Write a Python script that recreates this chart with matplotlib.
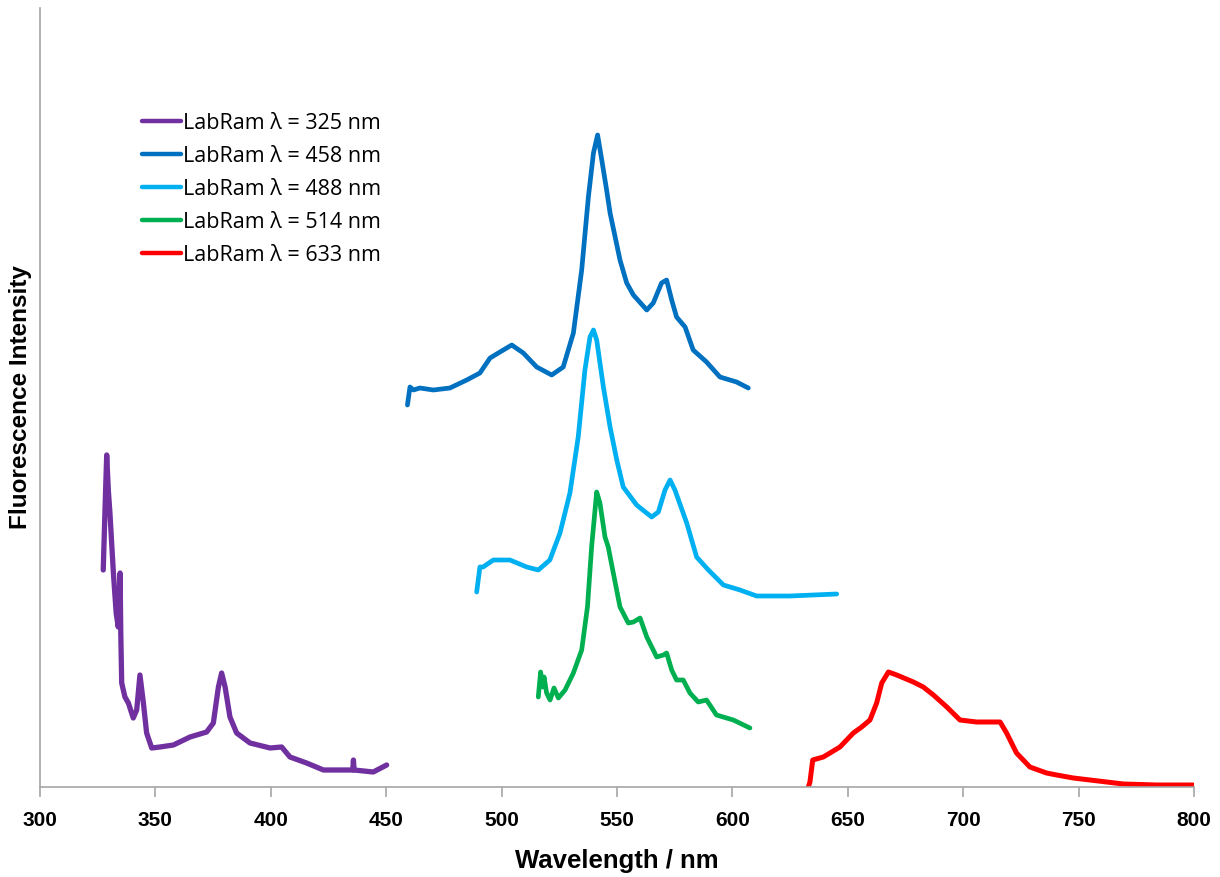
import matplotlib
matplotlib.use("Agg")
import matplotlib.pyplot as plt

# ---- data (wavelength nm, intensity arb.) ----
x325 = [327.4, 328.2, 328.9, 329.6, 330.3, 331.8, 333.0, 333.9, 334.4, 334.7, 335.0, 335.4, 336.8, 338.3,
        340.4, 341.9, 343.3, 344.8, 346.2, 348.4, 352.0, 357.8, 365.0, 372.2, 375.1, 377.3, 378.7,
        380.2, 382.3, 385.2, 391.0, 399.7, 404.7, 408.3, 415.5, 422.8, 435.5, 435.8, 436.1, 444.4, 450.2]
y325 = [217, 280, 332, 297, 274, 214, 174, 160, 190, 214, 154, 104, 90, 84,
        69, 77, 112, 84, 54, 39, 40, 42, 50, 55, 64, 100, 114,
        100, 70, 54, 44, 39, 40, 30, 24, 17, 17, 27, 17, 15, 22]

x458 = [459.2, 460.3, 461.8, 464.6, 470.4, 477.6, 484.9, 490.6, 495.0, 499.3, 504.4, 509.4, 515.2,
        521.7, 526.7, 531.1, 534.7, 537.6, 539.8, 541.6, 543.4, 545.5, 547.0, 551.3, 554.2, 557.1,
        562.9, 565.7, 569.3, 571.5, 573.7, 575.8, 579.5, 583.0, 588.8, 594.6, 601.8, 606.9]
y458 = [382, 400, 397, 399, 397, 399, 407, 414, 429, 435, 442, 434, 420,
        412, 420, 454, 517, 590, 634, 652, 627, 597, 574, 527, 504, 492,
        477, 484, 504, 507, 487, 470, 460, 437, 425, 410, 405, 399]

x488 = [489.2, 490.6, 492.0, 496.4, 503.6, 510.9, 515.9, 520.9, 525.3, 529.6, 533.2, 536.1, 538.3,
        539.8, 541.2, 544.1, 547.0, 549.9, 552.7, 558.5, 565.0, 567.9, 570.8, 573.0, 575.1, 580.2,
        584.5, 589.6, 596.1, 603.3, 610.5, 625.0, 645.2]
y488 = [195, 220, 220, 227, 227, 220, 217, 227, 254, 294, 350, 417, 450,
        457, 447, 400, 360, 327, 300, 282, 270, 275, 297, 307, 297, 264,
        230, 217, 202, 197, 191, 191, 193]

x514 = [515.9, 516.9, 517.8, 518.4, 519.5, 521.0, 522.7, 524.6, 527.5, 531.1, 534.7, 537.2, 539.0,
        541.2, 542.6, 544.8, 546.2, 548.4, 551.3, 554.9, 557.1, 560.0, 562.9, 567.2, 570.1, 571.5,
        573.7, 575.8, 578.7, 581.6, 585.2, 588.8, 593.1, 600.4, 607.6]
y514 = [90, 115, 100, 110, 94, 87, 99, 89, 97, 114, 137, 180, 240,
        295, 284, 250, 240, 214, 180, 164, 165, 169, 150, 130, 132, 134,
        117, 107, 107, 94, 85, 87, 72, 67, 59]

x633 = [632.9, 633.6, 634.8, 639.4, 646.6, 652.4, 656.0, 659.6, 662.5, 664.7, 667.6, 671.2, 678.4,
        682.7, 687.1, 692.9, 698.6, 705.8, 711.6, 716.0, 718.8, 723.1, 728.9, 736.1, 740.5, 747.7,
        762.2, 769.4, 783.8, 799.6]
y633 = [0, 5, 27, 30, 40, 54, 60, 67, 84, 104, 115, 112, 105,
        100, 92, 80, 67, 65, 65, 65, 54, 34, 20, 14, 12, 9,
        5, 3, 2, 2]

labels = ["LabRam \u03bb = 325 nm", "LabRam \u03bb = 458 nm", "LabRam \u03bb = 488 nm",
          "LabRam \u03bb = 514 nm", "LabRam \u03bb = 633 nm"]
colors = ["#7030A0", "#0070C0", "#00B0F0", "#00B050", "#FF0000"]
xticks = [300, 350, 400, 450, 500, 550, 600, 650, 700, 750, 800]

bold_family = ["Liberation Sans", "DejaVu Sans"]

fig = plt.figure(figsize=(12.2, 8.77), dpi=100)
ax = fig.add_axes([40 / 1220, 90 / 877, 1154 / 1220, 779 / 877])

series = [(x325, y325), (x458, y458), (x488, y488), (x514, y514), (x633, y633)]
widths = [3.8, 3.4, 3.4, 3.4, 3.6]
for (xs, ys), c, lab, w in zip(series, colors, labels, widths):
    ax.plot(xs, ys, color=c, lw=w, label=lab, solid_joinstyle="round", solid_capstyle="round")

ax.set_xlim(300, 800)
ax.set_ylim(0, 779)
ax.set_xticks(xticks)
ax.set_yticks([])
for s in ["top", "right"]:
    ax.spines[s].set_visible(False)
for s in ["left", "bottom"]:
    ax.spines[s].set_color("#a6a6a6")
    ax.spines[s].set_linewidth(1.2)
ax.tick_params(axis="x", direction="out", length=7, width=1.2, color="#a6a6a6", pad=10)
for t in ax.get_xticklabels():
    t.set_fontfamily(bold_family)
    t.set_fontweight("bold")
    t.set_fontsize(15)

ax.set_xlabel("Wavelength / nm", fontsize=18.5, fontweight="bold", family=bold_family, labelpad=14)
ax.set_ylabel("Fluorescence Intensity", fontsize=17.5, fontweight="bold", family=bold_family)
ax.yaxis.set_label_coords(-8 / 1154, 0.5)

leg = ax.legend(loc="upper left", bbox_to_anchor=(93.5 / 1154, 1 - 96 / 779), frameon=False,
                prop={"family": ["Open Sans", "DejaVu Sans"], "size": 15.5}, handlelength=1.8,
                handletextpad=0.1, labelspacing=0.56, borderaxespad=0)
for h in leg.get_lines():
    h.set_linewidth(3.2)

fig.savefig("out.png", dpi=100)
